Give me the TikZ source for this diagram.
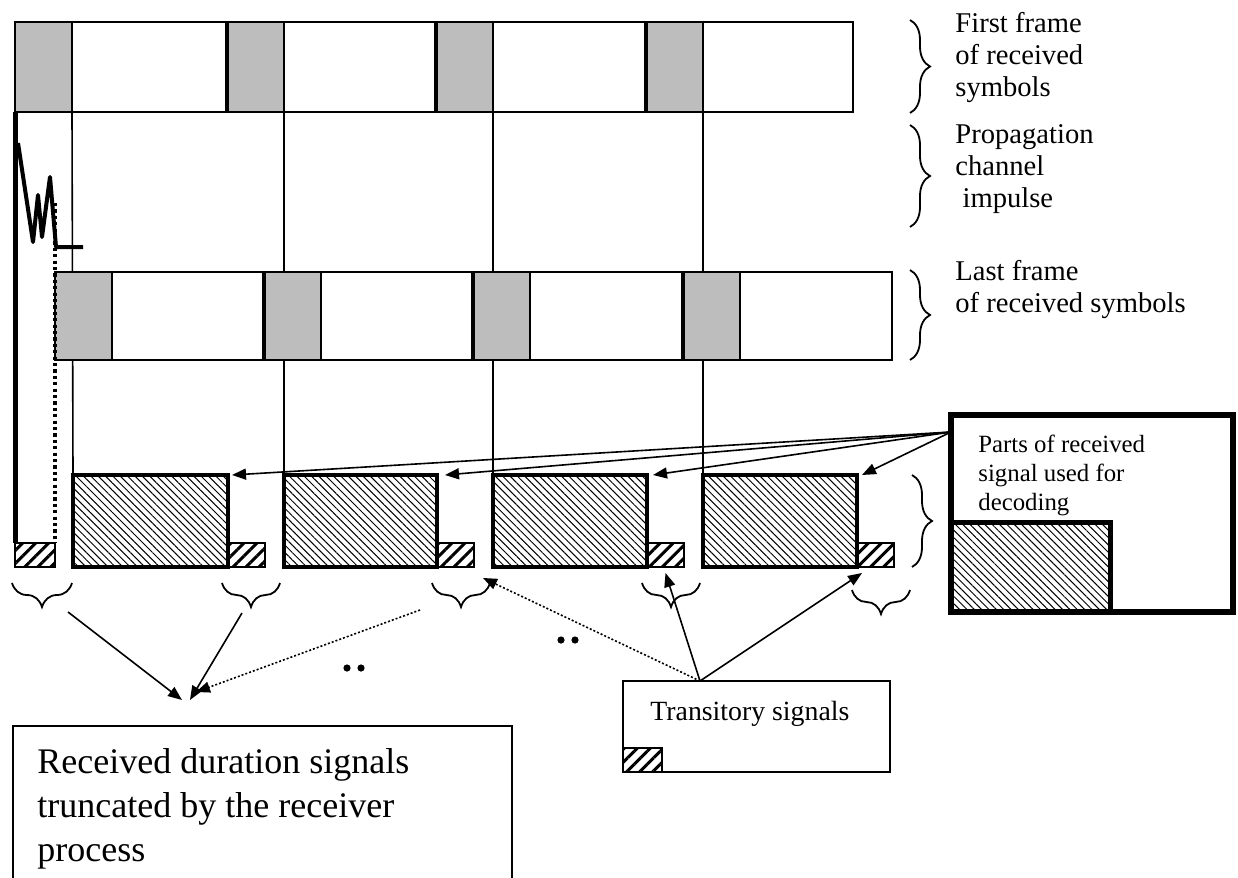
\documentclass[tikz,border=0pt]{standalone}
\usepackage{fontspec}
\setmainfont{Liberation Serif}
\usetikzlibrary{arrows.meta,patterns.meta,decorations.pathreplacing}
\definecolor{cellgray}{gray}{0.74}

\begin{document}
\begin{tikzpicture}[x=0.5pt, y=-0.5pt,
	outline/.style={draw, anchor=north west, inner sep=0pt, outer sep=0pt},
	symcell/.style={outline, fill=cellgray, line width=0.9pt, minimum width=28.5pt, minimum height=45pt},
	usedbox/.style={outline, line width=2.2pt, minimum height=46pt, pattern={Lines[angle=-45,distance=2.6pt,line width=0.5pt]}},
	transbox/.style={outline, line width=0.8pt, minimum width=18.5pt, minimum height=12pt, pattern={Lines[angle=45,distance=4.6pt,line width=1.5pt]}},
	lbl/.style={anchor=base west, inner sep=0pt, align=left},
	brc/.style={decorate, decoration={brace, amplitude=10pt}, line width=0.9pt},
	bbrc/.style={decorate, decoration={brace, amplitude=12pt}, line width=0.9pt},
	arrowline/.style={-{Triangle[length=7pt,width=5.5pt]}, line width=0.8pt}]
	\useasboundingbox (0,0) rectangle (1238,878);

	\draw[line width=0.9pt] (15,22) rectangle (853,112);
	\node[symcell] (f1) at (15,22) {};
	\node[symcell] (f2) at (227,22) {};
	\node[symcell] (f3) at (436,22) {};
	\node[symcell] (f4) at (646,22) {};
	\draw[line width=1.6pt] (f2.north west) -- (f2.south west) (f3.north west) -- (f3.south west) (f4.north west) -- (f4.south west);

	\node[transbox, minimum width=20pt] (t0) at (15,543) {};
	\node[transbox] (t1) at (228,543) {};
	\node[transbox] (t2) at (437,543) {};
	\node[transbox] (t3) at (647,543) {};
	\node[transbox] (t4) at (857,543) {};
	\node[usedbox, minimum width=77.5pt] (u1) at (73,475) {};
	\node[usedbox, minimum width=76.5pt] (u2) at (284,475) {};
	\node[usedbox, minimum width=77pt] (u3) at (493,475) {};
	\node[usedbox, minimum width=77pt] (u4) at (703,475) {};

	\path[draw, line width=0.8pt]
	(f1.south east) -- (u1.north west)
	(f2.south east) -- (u2.north west)
	(f3.south east) -- (u3.north west)
	(f4.south east) -- (u4.north west);

	\draw[line width=0.9pt] (55,272) rectangle (892,360);
	\node[symcell, minimum height=44pt] (l1) at (55,272) {};
	\node[symcell, minimum height=44pt] (l2) at (264,272) {};
	\node[symcell, minimum height=44pt] (l3) at (473,272) {};
	\node[symcell, minimum height=44pt] (l4) at (683,272) {};
	\draw[line width=1.6pt] (l2.north west) -- (l2.south west) (l3.north west) -- (l3.south west) (l4.north west) -- (l4.south west);

	\draw[line width=2.5pt] (f1.south west) -- (t0.north west);
	\draw[line width=2pt, line join=round] (18,143) -- (33,242) -- (38,195) -- (42,237) -- (50,177) -- (56,247) -- (83,247);
	\draw[line width=1.6pt, dash pattern=on 1.6pt off 1.6pt] (55,203) -- (t0.north east);

	\node[lbl, font=\fontsize{14.3}{16}\selectfont] (firstlbl) at (955,96) {First frame\\of received\\symbols};
	\node[lbl, font=\fontsize{14.3}{16}\selectfont] (proplbl) at (955,207) {Propagation\\channel\\\hspace*{0.25em}impulse};
	\node[lbl, font=\fontsize{14.3}{16}\selectfont] (lastlbl) at (955,312) {Last frame\\of received symbols};
	\draw[brc] (910,20) -- (910,113);
	\draw[brc] (910,125) -- (910,227);
	\draw[brc] (910,270) -- (910,360);
	\draw[brc] (912,475) -- (912,567);

	\node[outline, line width=3pt, minimum width=141pt, minimum height=98.5pt] (parts) at (951,415) {};
	\node[outline, anchor=south west, line width=2.5pt, minimum width=79.5pt, minimum height=45pt, pattern={Lines[angle=-45,distance=2.6pt,line width=0.5pt]}] (pk) at (parts.south west) {};
	\node[lbl, font=\fontsize{12.4}{14.5}\selectfont] (partstext) at (978,510) {Parts of received\\signal used for\\decoding};
	\coordinate (ps) at (951,432);
	\draw[arrowline] (ps) -- ([xshift=2pt]u1.north east);
	\draw[arrowline] (ps) -- ([xshift=4pt]u2.north east);
	\draw[arrowline] (ps) -- ([xshift=3pt]u3.north east);
	\draw[arrowline] (ps) -- ([xshift=2.5pt]u4.north east);

	\draw[bbrc] (72,583) -- (12,583);
	\draw[bbrc] (280,583) -- (222,583);
	\draw[bbrc] (490,583) -- (432,583);
	\draw[bbrc] (700,583) -- (642,583);
	\draw[bbrc] (910,590) -- (852,590);

	\node[outline, line width=0.8pt, minimum width=133.5pt, minimum height=45.5pt] (trans) at (623,681) {};
	\node[transbox, anchor=south west, minimum width=19.5pt] (tk) at (trans.south west) {};
	\node[lbl, font=\fontsize{13.9}{16}\selectfont] (transtext) at (650,720) {Transitory signals};
	\coordinate (ts) at (700,681);
	\draw[arrowline] (ts) -- ([yshift=-3pt]t3.south);
	\draw[arrowline] (ts) -- ([shift={(2.5pt,-3pt)}]t4.south west);
	\draw[arrowline, dash pattern=on 1pt off 1pt] (ts) -- ([shift={(4.5pt,-5.5pt)}]t2.south east);

	\node[outline, line width=1pt, minimum width=249.5pt, minimum height=100pt] (rec) at (13,726) {};
	\node[lbl, font=\fontsize{18}{22}\selectfont] (rectext) at (37,861) {Received duration signals\\truncated by the receiver\\process};
	\coordinate (r1) at (68,612);
	\coordinate (r2) at (242,613);
	\coordinate (r3) at (420,610);
	\coordinate (hit) at (188,700);
	\draw[arrowline] (r1) -- ([xshift=-3pt]hit);
	\draw[arrowline] (r2) -- ([xshift=1pt]hit);
	\draw[arrowline, dash pattern=on 1pt off 1pt] (r3) -- ([shift={(4pt,4pt)}]hit);

	\fill (347,668) circle (1.8pt) (361,668) circle (1.8pt);
	\fill (561,640) circle (1.8pt) (575,640) circle (1.8pt);
\end{tikzpicture}
\end{document}
